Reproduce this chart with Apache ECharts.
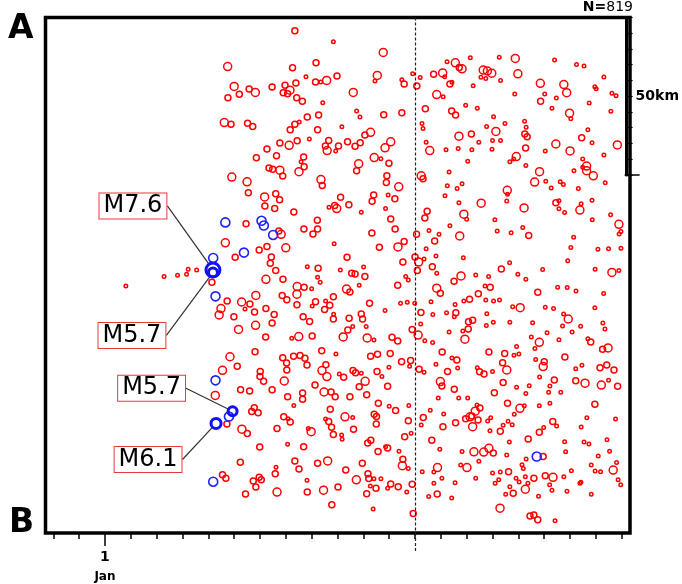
<!DOCTYPE html>
<html>
<head>
<meta charset="utf-8">
<script src="https://cdn.jsdelivr.net/npm/echarts@6/dist/echarts.min.js"></script>
<style>
html,body{margin:0;padding:0;background:#fff;}
#main{width:682px;height:584px;}
</style>
</head>
<body>
<div id="main"></div>
<script>
// time axis in days after 1 Jan, distance along A-B in km
var dayTicks = [-2,-1,0,1,2,3,4,5,6,7,8,9,10,11,12,13,14,15,16,17,18,19,20];
var labelDays = [0];
var dashDay = 12;
var scaleKmTicks = [0,5,10,15,20,25,30,35,40,45,50];
var scaleLength = 50;

// [day, km, magnitude]
var redEvents = [
[7.35,4.2,3.0],[8.84,7.7,2.5],[4.75,15.6,3.5],[7.26,16.0,3.0],[8.17,14.4,3.0],[7.78,18.8,2.5],[8.15,20.5,3.0],[8.35,20.5,2.5],[8.58,20.0,3.5],[8.98,18.6,3.0],
[5.00,21.9,3.5],[5.58,22.7,3.0],[5.82,23.8,3.5],[5.20,24.4,3.0],[4.76,25.5,3.0],[6.47,22.1,3.0],[6.97,21.5,3.0],[7.39,20.8,3.0],[6.90,23.9,3.0],[7.07,24.2,3.0],
[7.16,23.1,3.5],[7.42,25.5,3.0],[7.64,26.6,3.0],[8.43,27.1,2.5],[4.62,33.4,3.5],[4.88,33.9,3.0],[5.52,33.6,3.0],[5.72,34.6,3.0],[7.83,31.6,3.0],[8.27,31.0,3.0],
[7.35,33.9,3.0],[7.52,33.2,2.5],[7.17,35.7,3.0],[8.23,35.7,3.0],[9.17,34.7,2.5],[7.91,38.6,2.5],[6.77,39.9,3.0],[7.13,40.6,3.5],[7.44,39.2,3.0],[8.66,39.1,3.0],
[8.53,40.8,3.0],[8.60,42.3,3.5],[8.93,42.4,2.5],[9.04,40.8,3.0],[6.27,41.8,3.0],[6.64,43.9,3.0],[5.86,44.6,3.0],[7.69,44.3,3.0],[7.59,45.8,2.5],[7.71,47.4,3.0],
[6.35,47.8,3.0],[6.49,48.2,3.0],[6.77,48.5,3.5],[6.88,50.4,3.0],[7.51,49.0,3.5],[4.91,50.7,3.5],[5.50,52.2,3.5],[8.36,51.5,3.5],[8.41,53.4,3.0],[5.55,55.7,3.0],
[6.18,57.0,3.5],[6.61,56.0,3.0],[6.76,57.9,3.0],[9.12,57.1,3.0],[6.57,60.7,3.0],[7.31,61.8,3.0],[8.67,60.3,2.5],[8.89,59.7,3.0],[8.97,60.7,3.5],[8.22,64.4,3.0],
[8.23,67.2,3.0],[7.70,67.2,3.0],[8.05,68.8,3.0],[5.46,65.5,3.0],[4.66,71.6,3.5],[5.04,76.2,3.0],[5.97,73.9,3.0],[6.27,72.8,3.0],[6.44,76.1,3.0],[6.40,78.1,3.0],
[6.61,80.4,3.0],[7.00,73.2,3.5],[6.82,68.9,3.5],[6.73,67.8,3.0],[8.87,71.9,2.5],[7.83,79.2,2.5],[8.25,79.7,3.0],[9.11,80.2,2.5],[6.19,59.9,3.0],
[0.81,85.3,2.5],[2.29,82.3,2.5],[2.81,81.9,2.5],[3.16,81.6,2.5],[3.22,80.0,2.5],[3.55,80.2,2.5],[4.14,84.1,3.0],
[4.73,90.1,3.0],[4.49,92.5,3.5],[4.42,94.5,3.5],[4.99,95.1,3.0],[5.29,90.4,3.5],[5.42,92.6,2.5],[5.61,91.0,3.0],[5.84,88.3,3.5],[5.79,93.6,3.0],[5.17,99.1,3.5],
[5.83,97.8,3.5],[6.23,92.5,3.0],[6.55,94.4,3.0],[6.47,97.1,3.0],[6.23,83.2,3.5],[6.89,83.2,3.0],[6.86,88.3,3.0],[7.04,89.7,3.0],[7.44,85.5,3.5],[7.71,85.7,3.0],
[7.43,87.9,3.5],[7.43,91.3,3.0],[7.67,95.1,3.0],[7.92,96.6,3.0],[8.00,86.2,2.5],[8.23,82.5,2.5],[8.33,84.1,2.5],[8.15,90.3,3.0],[8.54,90.1,2.5],[8.70,91.4,3.0],
[8.84,88.7,3.0],[8.50,92.8,3.0],[8.85,94.3,2.5],[8.84,95.8,3.0],[8.02,91.7,2.5],[9.35,86.3,3.5],[9.48,87.2,3.0],[9.84,85.1,2.5],[9.55,81.3,3.0],[9.68,81.5,3.0],
[10.06,82.3,3.0],[10.24,90.8,3.0],[9.92,94.2,3.0],[9.97,95.8,3.0],[9.45,95.6,3.0],[9.40,99.3,3.0],[9.59,98.2,2.5],[10.11,98.2,2.5],[10.84,93.1,2.5],[11.33,85.1,3.0],
[11.64,82.3,2.5],[11.74,83.4,2.5],[11.70,90.5,2.5],[11.44,90.8,2.5],[11.99,90.8,2.5],[11.89,99.1,3.0],[6.22,101.5,3.0],[7.23,101.9,2.5],[7.50,101.4,3.5],[8.02,101.2,3.0],
[9.22,101.5,3.5],[10.15,101.8,3.5],[10.41,102.5,2.5],[11.11,101.6,3.0],[11.33,102.8,3.0],[5.81,106.2,3.0],[4.84,107.8,3.5],[5.12,110.8,3.0],[4.55,112.1,3.5],[6.88,108.1,3.0],
[7.03,109.8,3.0],[7.04,112.0,3.0],[7.30,107.6,3.0],[7.55,107.4,3.0],[7.74,108.3,3.0],[7.82,110.4,3.0],[8.39,105.9,3.0],[8.55,110.3,3.0],[8.40,112.2,3.5],[8.59,114.1,3.5],
[8.94,106.9,2.5],[9.07,113.3,2.5],[9.24,114.3,3.0],[9.60,112.2,3.0],[9.70,112.9,3.0],[9.92,113.0,2.5],[10.07,115.6,3.5],[9.84,117.3,3.0],[10.28,107.6,3.0],[10.55,107.0,3.0],
[11.04,106.8,3.0],[10.53,112.5,3.0],[10.72,114.1,2.5],[10.99,111.1,2.5],[11.48,109.4,3.0],[11.83,109.0,3.0],[11.79,110.8,2.5],[10.94,117.2,3.0],[6.01,112.5,3.0],[6.00,114.1,3.0],
[6.14,115.6,3.0],[6.94,115.5,3.5],[6.47,118.3,3.0],[5.60,118.7,3.0],[5.25,118.3,3.0],[4.27,120.1,3.5],[4.72,129.2,3.0],[5.30,130.8,3.5],[5.51,132.2,3.0],[5.78,124.0,3.0],
[5.68,125.2,3.0],[5.93,125.6,3.0],[6.66,130.6,3.0],[6.92,126.9,3.0],[7.17,128.5,3.0],[7.09,127.5,2.5],[7.31,123.3,2.5],[7.07,120.5,3.0],[7.65,119.3,3.0],[7.65,121.3,3.0],
[8.13,116.8,3.0],[8.48,119.0,3.5],[8.75,119.0,3.0],[8.91,120.5,3.0],[8.72,124.5,3.0],[8.54,127.6,2.5],[8.66,128.4,3.0],[8.77,130.2,3.0],[8.84,132.5,3.0],[9.16,132.7,2.5],
[9.18,134.0,2.5],[9.29,126.9,3.5],[9.59,127.1,2.5],[9.48,120.5,3.0],[10.13,119.9,3.0],[10.58,122.6,3.0],[10.42,126.1,3.0],[10.51,126.8,3.0],[10.50,129.2,3.0],[10.17,135.2,3.0],
[10.29,134.3,3.0],[9.62,130.8,3.0],[7.98,131.6,3.5],[7.87,130.6,2.5],[7.07,135.6,2.5],[7.69,136.4,3.0],[5.99,136.5,3.0],[11.00,123.5,2.5],[11.25,124.9,3.0],[11.76,123.3,2.5],
[11.74,128.1,3.0],[11.60,133.2,3.0],[11.85,132.1,2.5],[10.86,136.4,2.5],[10.94,136.8,3.0],[10.57,137.9,3.0],[11.38,137.8,2.5],[11.53,140.4,3.0],[11.51,142.4,3.5],[11.74,143.3,2.5],
[9.96,141.6,3.0],[9.32,143.8,3.0],[8.62,140.9,3.5],[8.23,141.6,3.0],[7.35,140.9,3.0],[7.51,143.5,3.0],[5.24,141.3,3.0],[4.55,145.3,3.0],[4.68,146.4,3.0],[5.74,147.3,3.0],
[5.97,146.1,3.0],[6.05,146.9,3.0],[5.84,149.2,3.0],[5.44,151.4,3.0],[6.59,145.0,3.0],[6.62,142.9,2.5],[6.66,150.8,3.5],[7.82,147.0,2.5],[7.83,150.8,3.0],[8.46,150.2,3.5],
[9.02,149.2,3.0],[9.73,146.9,3.5],[10.18,145.0,3.0],[10.21,146.5,3.0],[10.41,146.6,2.5],[10.68,146.6,2.5],[10.49,149.6,3.0],[10.27,148.9,2.5],[10.13,151.3,3.0],[10.94,149.6,2.5],
[11.06,148.2,3.0],[11.35,149.1,3.0],[11.68,150.8,2.5],[11.89,148.3,3.0],[8.78,154.8,3.0],[10.38,156.2,2.5],[11.93,157.6,3.0],
[10.77,11.1,3.5],[10.54,18.4,3.5],[10.45,20.2,2.5],[11.49,19.8,2.5],[11.58,21.1,3.0],[11.91,17.9,2.5],[12.07,21.8,3.0],[12.20,19.1,2.5],[12.72,18.0,3.0],[13.07,17.6,3.5],
[13.15,18.8,2.5],[13.35,21.1,3.0],[13.43,20.6,2.5],[13.24,14.1,2.5],[13.56,14.4,3.5],[13.71,15.9,3.0],[13.82,16.3,3.5],[14.14,12.8,2.5],[14.64,16.7,3.5],[14.80,17.0,3.5],
[14.55,19.0,2.5],[14.74,19.4,2.5],[14.25,21.7,2.5],[9.61,23.8,3.5],[9.74,29.7,2.5],[9.87,31.6,2.5],[10.79,30.9,3.0],[11.49,30.3,3.0],[12.84,24.5,3.5],[13.09,25.2,2.5],
[12.40,29.0,3.0],[13.42,29.7,3.0],[13.57,31.0,3.0],[13.96,27.9,2.5],[14.41,28.8,2.5],[14.77,34.6,2.5],[12.27,33.7,2.5],[12.31,35.3,2.5],[9.39,39.5,3.0],[9.68,40.9,3.0],
[9.88,39.8,3.0],[10.06,37.3,3.0],[10.28,36.5,3.5],[11.06,39.5,3.5],[10.84,41.4,3.5],[12.43,39.6,2.5],[12.57,42.3,3.5],[13.20,42.0,2.5],[13.70,37.7,3.5],[14.18,37.0,3.0],
[13.67,41.6,2.5],[14.20,42.0,2.5],[14.47,39.6,2.5],[10.42,44.5,3.5],[10.68,44.9,2.5],[9.82,46.5,3.5],[9.74,48.7,3.0],[10.99,46.3,3.0],[14.04,45.7,2.5],[12.24,50.3,3.5],
[12.31,51.2,3.0],[13.32,49.1,2.5],[10.91,50.3,3.0],[10.89,52.4,3.0],[11.37,53.8,3.5],[10.40,56.4,3.0],[10.34,58.4,3.0],[11.22,57.6,3.0],[10.96,56.4,2.5],[10.86,60.7,2.5],
[9.44,59.5,3.0],[9.92,61.9,2.5],[11.06,64.0,3.0],[11.23,67.2,3.0],[10.33,68.5,3.0],[13.25,53.5,2.5],[13.82,52.8,2.5],[13.63,54.3,2.5],[13.16,56.6,2.5],[13.70,58.9,2.5],
[14.56,59.0,3.5],[13.89,62.5,3.5],[14.00,64.1,2.5],[13.35,66.2,2.5],[12.47,61.6,3.0],[12.38,63.7,3.0],[12.54,67.7,2.5],[12.93,68.9,2.5],[12.76,71.0,3.0],[13.73,69.4,3.5],
[12.06,68.9,3.0],[11.34,72.9,3.5],[11.58,71.2,3.0],[10.62,73.0,3.0],[9.37,76.2,3.0],[12.00,76.1,3.0],[12.14,77.7,3.5],[12.35,76.7,2.5],[12.43,73.5,2.5],[12.81,75.8,2.5],
[12.67,79.2,3.0],[13.87,76.3,2.5],[11.53,77.7,3.0],[10.01,79.3,2.5],[12.09,80.4,3.0],
[15.26,12.6,2.5],[15.88,13.0,3.5],[17.40,13.5,2.5],[18.25,14.9,2.5],[18.54,15.4,2.5],[14.97,17.7,3.5],[15.31,20.0,2.5],[15.98,17.9,3.5],[16.85,20.9,3.5],[17.76,21.3,3.5],
[17.87,23.9,3.5],[17.02,24.3,2.5],[15.86,24.3,2.5],[17.47,25.6,2.5],[16.86,26.6,3.0],[17.30,28.8,2.5],[18.96,22.0,2.5],[19.01,22.6,2.5],[19.31,18.9,2.5],[19.62,24.1,2.5],
[19.78,24.9,2.5],[18.74,27.2,2.5],[19.58,29.8,2.5],[17.98,30.4,3.5],[18.03,32.2,2.5],[15.04,31.5,2.5],[15.48,33.7,2.5],[15.13,36.2,3.5],[15.00,39.1,2.5],[15.31,39.1,2.5],
[14.98,41.9,2.5],[16.24,33.0,2.5],[16.30,34.9,2.5],[16.25,37.0,3.0],[16.34,37.9,3.0],[16.28,41.5,3.0],[15.92,44.2,3.5],[15.82,45.0,2.5],[15.67,45.8,2.5],[16.29,47.0,2.5],
[17.04,42.4,2.5],[17.45,40.2,3.5],[18.00,42.4,3.5],[18.45,38.2,3.0],[18.69,35.7,2.5],[18.85,39.8,2.5],[19.83,40.5,3.5],[19.31,43.7,2.5],[18.49,45.0,2.5],[18.64,47.2,3.5],
[18.64,48.7,3.5],[18.49,47.6,2.5],[18.90,50.3,3.5],[18.15,48.7,2.5],[19.36,52.5,2.5],[16.82,49.0,3.5],[16.63,52.3,3.5],[17.06,52.0,2.5],[17.62,52.2,2.5],[17.74,53.1,2.5],
[17.27,54.2,2.5],[18.32,54.3,2.5],[15.57,54.9,3.5],[15.58,56.2,2.5],[15.55,58.3,2.5],[16.22,60.5,3.5],[17.45,58.9,3.0],[17.57,58.2,2.5],[17.57,60.8,2.5],[17.79,62.0,2.5],
[18.38,61.2,3.5],[18.43,59.2,2.5],[18.85,58.1,2.5],[18.86,64.3,2.5],[19.57,62.7,2.5],[19.89,65.7,3.5],[19.97,68.0,2.5],[19.90,68.8,2.5],[15.09,64.3,2.5],[15.18,67.8,2.5],
[15.72,68.4,2.5],[16.17,66.7,2.5],[16.40,69.3,3.0],[18.14,69.8,2.5],[18.03,73.1,2.5],[19.08,73.6,2.5],[19.49,73.5,2.5],[19.97,73.3,2.5],[17.91,77.3,2.5],[15.66,77.9,2.5],
[15.34,79.9,3.0],[16.94,80.1,2.5],[18.97,80.0,2.5],[19.62,81.0,3.5],[19.89,80.4,2.5],
[12.84,81.3,2.5],[13.78,82.1,3.5],[14.35,81.8,2.5],[14.85,82.3,2.5],[15.98,81.6,2.5],[16.29,83.2,2.5],[13.51,83.8,3.0],[12.84,86.0,3.5],[12.98,87.6,3.0],[12.62,90.3,2.5],
[14.45,87.8,3.0],[14.71,85.3,2.5],[14.91,85.7,3.0],[14.11,89.5,3.0],[13.89,90.1,2.5],[14.74,89.8,2.5],[15.04,90.1,2.5],[15.27,89.8,2.5],[13.55,91.2,2.5],[13.22,93.8,2.5],
[13.58,93.8,3.0],[13.52,95.1,2.5],[12.23,93.7,3.0],[12.69,94.4,2.5],[12.12,100.9,3.5],[12.22,97.4,2.5],[12.38,102.7,2.5],[12.68,103.3,2.5],[13.32,99.9,2.5],[14.07,96.7,3.0],
[14.23,96.2,3.0],[14.06,99.0,3.0],[13.85,99.6,2.5],[13.93,102.2,3.5],[14.78,94.1,2.5],[14.76,97.9,2.5],[15.03,96.8,2.5],[15.67,96.8,2.5],[16.07,92.2,3.5],[15.78,91.9,2.5],
[16.55,97.0,2.5],[17.04,92.1,2.5],[17.36,92.5,2.5],[16.75,87.3,3.0],[17.52,85.7,2.5],[17.89,85.8,2.5],[18.23,86.9,2.5],[18.96,92.2,2.5],[19.30,87.7,2.5],[17.75,94.2,2.5],
[17.93,95.8,3.5],[17.71,98.0,2.5],[18.08,99.9,2.5],[18.41,98.1,2.5],[19.27,97.1,2.5],[19.35,99.0,2.5],[16.50,101.5,2.5],[16.81,103.2,3.5],[17.11,100.2,2.5],[17.57,102.4,2.5],
[18.69,102.1,2.5],[18.80,103.1,3.0],[19.26,105.4,3.0],[19.47,105.0,3.5],[16.64,105.2,2.5],[15.93,104.5,2.5],[13.05,106.3,3.0],[12.81,110.2,2.5],[13.43,108.2,2.5],[13.62,108.8,3.0],
[13.65,111.4,2.5],[13.26,112.5,3.0],[12.16,111.8,3.0],[12.35,112.7,2.5],[14.86,106.3,3.0],[15.47,106.8,3.0],[15.83,107.3,2.5],[16.02,106.9,2.5],[16.67,108.7,2.5],[17.00,109.4,3.0],
[16.96,110.9,3.5],[15.39,109.7,3.0],[15.55,112.0,3.5],[17.80,107.9,3.0],[18.22,111.6,2.5],[18.46,110.5,2.5],[19.16,111.3,3.0],[19.42,110.4,3.0],[19.70,112.0,3.0],[14.41,111.3,2.5],
[14.50,112.6,3.0],[14.67,113.3,3.0],[15.00,112.5,2.5],[16.82,114.2,2.5],[17.39,115.2,3.0],[18.22,115.4,3.0],[18.58,116.2,3.5],[19.21,116.8,3.5],[19.84,117.2,3.0],[19.49,115.3,2.5],
[12.98,115.7,3.5],[13.04,117.1,3.0],[13.52,118.1,3.0],[15.07,119.2,3.0],[15.41,116.0,3.0],[15.93,117.5,2.5],[16.42,117.0,2.5],[17.22,117.1,2.5],[17.17,119.1,2.5],[17.64,119.1,2.5],
[16.29,119.5,2.5],[12.90,120.9,2.5],[13.69,120.9,2.5],[14.04,120.9,2.5],[14.40,123.1,2.5],[14.51,124.1,3.0],[14.33,125.1,3.5],[14.20,126.6,3.0],[13.96,127.5,3.0],[14.13,126.9,3.5],
[14.44,127.9,3.0],[14.93,127.2,2.5],[14.81,128.2,2.5],[13.11,126.0,2.5],[12.59,124.8,2.5],[12.32,127.1,3.0],[12.24,129.5,2.5],[13.08,130.0,3.0],[13.57,128.8,3.0],[14.23,130.0,3.5],
[15.58,122.6,3.0],[16.06,124.2,3.5],[16.23,123.4,2.5],[15.84,126.1,2.5],[15.60,128.3,2.5],[15.41,129.6,2.5],[15.76,129.4,2.5],[16.81,123.4,2.5],[17.22,122.6,2.5],[17.33,128.4,3.0],
[17.48,129.8,2.5],[16.81,131.8,3.0],[16.98,130.3,2.5],[18.43,130.1,2.5],[18.65,127.2,2.5],[18.96,122.9,3.0],[19.76,127.6,2.5],[14.90,131.3,2.5],[15.30,131.5,3.0],[12.65,134.3,3.0],
[12.96,137.2,2.5],[13.82,137.9,2.5],[14.28,138.0,3.5],[14.66,138.1,3.5],[14.86,136.9,3.5],[15.03,138.4,3.0],[14.47,141.0,2.5],[15.55,139.0,2.5],[16.38,133.9,3.0],[15.65,134.9,2.5],
[16.96,139.5,3.0],[16.30,140.3,2.5],[17.83,138.0,2.5],[17.79,134.8,2.5],[18.54,134.9,2.5],[18.73,135.5,2.5],[19.43,134.2,2.5],[19.53,137.8,2.5],[19.09,139.3,2.5],[19.80,141.4,2.5],
[19.67,143.8,3.5],[18.82,142.2,2.5],[18.97,144.1,2.5],[19.18,144.3,2.5],[18.05,144.0,2.5],[17.76,145.9,2.5],[18.42,147.7,2.5],[19.86,146.9,2.5],[19.96,148.5,2.5],[18.82,151.5,2.5],
[17.88,150.5,2.5],[17.34,146.1,3.5],[17.04,145.6,3.0],[17.21,148.5,2.5],[17.30,150.2,2.5],[16.78,152.1,2.5],[16.27,149.9,3.5],[16.60,146.4,3.0],[16.37,148.0,2.5],[16.27,145.9,2.5],
[16.19,143.3,2.5],[15.91,146.4,2.5],[15.62,144.3,3.0],[15.30,144.4,2.5],[15.00,144.7,2.5],[15.24,146.9,2.5],[15.10,148.0,2.5],[15.67,149.1,2.5],[15.80,151.2,3.0],[15.51,151.5,2.5],
[16.03,147.6,2.5],[16.14,142.1,2.5],[14.01,143.0,3.5],[13.77,142.2,2.5],[13.55,147.8,2.5],[13.04,146.4,2.5],[12.87,143.0,3.5],[12.73,144.4,2.5],[12.73,148.0,2.5],[12.28,144.3,2.5],
[12.86,151.4,3.0],[13.42,152.7,2.5],[12.53,152.2,2.5],[14.35,146.4,2.5],[15.29,155.9,3.5],[16.45,158.4,3.0],[16.60,158.1,3.0],[16.75,159.6,3.0],[17.42,159.9,2.5],[18.38,148.0,2.5]
];

// larger events (blue)
var blueEvents = [
[4.19,76.4,4.8],[4.28,88.6,4.8],[4.66,65.1,4.8],[6.06,64.6,4.8],[6.15,66.1,4.8],[6.51,69.1,4.9],
[5.38,74.7,4.9],[4.28,115.3,4.8],[4.80,126.8,4.7],[4.19,147.5,4.8],[16.71,139.5,4.9]
];

// labelled main shocks
var mainNames = ['M7.6','M5.7','M5.7','M6.1'];
var mainDays = [4.18,4.18,4.94,4.30];
var mainKm = [80.2,81.0,125.1,129.0];
var mainMags = [7.6,5.7,5.7,6.1];

var xMin = -2.3, xMax = 20.32, yMax = 163.8;

var mainData = mainNames.map(function(n, i){
  return {name: n, value: [mainDays[i], mainKm[i], mainMags[i]]};
});

// where each label box sits relative to its event
var labelShift = {
  0: [-80, -64],
  1: [-81, 63],
  2: [-81, -23],
  3: [-68, 36]
};

var myChart = echarts.init(document.getElementById('main'));
var option = {
  animation: false,
  textStyle: {fontFamily: 'DejaVu Sans'},
  grid: [
    {left: 45.5, right: 52, top: 17.5, bottom: 51, show: true, borderColor: '#000', borderWidth: 3.5, backgroundColor: 'rgba(0,0,0,0)'},
    {left: 45.5, right: 52, top: 17.5, height: 157.4, show: false}
  ],
  xAxis: [
    {
      gridIndex: 0, type: 'value', min: xMin, max: xMax, position: 'bottom',
      axisLine: {show: false, onZero: false}, splitLine: {show: false}, axisLabel: {show: false},
      axisTick: {show: true, customValues: dayTicks, length: 6, lineStyle: {color: '#000', width: 1.5}}
    },
    {
      gridIndex: 0, type: 'value', min: xMin, max: xMax, position: 'bottom',
      axisLine: {show: false, onZero: false}, splitLine: {show: false},
      axisTick: {show: true, customValues: labelDays, length: 13, lineStyle: {color: '#000', width: 1.5}},
      axisLabel: {
        show: true, customValues: labelDays, margin: 15,
        formatter: function(v){ return '{d|' + (v + 1) + '}\n{m|Jan}'; },
        rich: {
          d: {fontSize: 14, fontWeight: 'bold', lineHeight: 18, color: '#000', fontFamily: 'DejaVu Sans'},
          m: {fontSize: 12, fontWeight: 'bold', lineHeight: 22, color: '#000', fontFamily: 'DejaVu Sans'}
        }
      }
    },
    {
      gridIndex: 0, type: 'value', min: xMin, max: xMax, position: 'bottom',
      axisLine: {show: false, onZero: false}, splitLine: {show: false}, axisLabel: {show: false},
      axisTick: {show: true, customValues: [dashDay], length: 19, lineStyle: {color: '#222', width: 1.2, type: [3, 2]}}
    },
    {gridIndex: 1, type: 'value', min: xMin, max: xMax, show: false}
  ],
  yAxis: [
    {gridIndex: 0, type: 'value', min: 0, max: yMax, inverse: true, show: false},
    {
      gridIndex: 1, type: 'value', min: 0, max: scaleLength, interval: 5, inverse: true,
      position: 'right', offset: 2,
      axisLine: {show: true, onZero: false, lineStyle: {color: '#000', width: 3}},
      axisTick: {show: true, customValues: scaleKmTicks, length: 6, lineStyle: {color: '#000', width: 1.2}},
      axisLabel: {show: true, customValues: [scaleLength / 2], formatter: scaleLength + 'km', margin: 9,
        color: '#000', fontWeight: 'bold', fontSize: 14, fontFamily: 'DejaVu Sans'},
      splitLine: {show: false}
    },
    {
      gridIndex: 1, type: 'value', min: 0, max: scaleLength, inverse: true, position: 'right',
      axisLine: {show: false, onZero: false}, axisLabel: {show: false}, splitLine: {show: false},
      axisTick: {show: true, customValues: [scaleLength], length: 15, lineStyle: {color: '#000', width: 1.5}}
    }
  ],
  graphic: [
    {type: 'text', left: 8, top: 13, style: {text: 'A', font: 'bold 33px "DejaVu Sans"', fill: '#000'}},
    {type: 'text', left: 9, top: 507, style: {text: 'B', font: 'bold 33px "DejaVu Sans"', fill: '#000'}},
    {type: 'text', right: 49, top: 0, style: {
      text: '{b|N=}{n|819}', fill: '#000',
      rich: {b: {fontSize: 14, fontWeight: 'bold', fontFamily: 'DejaVu Sans'}, n: {fontSize: 14, fontFamily: 'DejaVu Sans'}}
    }}
  ],
  series: [
    {
      name: 'events', type: 'scatter', xAxisIndex: 0, yAxisIndex: 0,
      data: redEvents, silent: true,
      symbol: 'circle',
      symbolSize: function(v){ return v[2] >= 3.5 ? 8 : (v[2] >= 3 ? 6 : 3.5); },
      itemStyle: {color: 'rgba(255,0,0,0)', borderColor: '#ff0000', borderWidth: 1.5, opacity: 1},
      markLine: {
        silent: true, symbol: 'none', label: {show: false},
        lineStyle: {color: '#222', type: [3, 2], width: 1.2},
        data: [{xAxis: dashDay}]
      }
    },
    {
      name: 'large', type: 'scatter', xAxisIndex: 0, yAxisIndex: 0,
      data: blueEvents, silent: true, symbol: 'circle', symbolSize: 9,
      itemStyle: {color: 'rgba(0,0,255,0)', borderColor: '#2020ff', borderWidth: 1.6, opacity: 1}
    },
    {
      name: 'main', type: 'scatter', xAxisIndex: 0, yAxisIndex: 0,
      data: mainData, silent: true, symbol: 'circle',
      symbolSize: function(v){ return 9 + (v[2] - 5.7) * 2.6; },
      itemStyle: {color: 'rgba(0,0,255,0)', borderColor: '#1010ff', borderWidth: 3, opacity: 1},
      label: {
        show: true, position: 'inside', formatter: '{b}',
        fontSize: 24, fontFamily: 'DejaVu Sans', color: '#000',
        backgroundColor: '#fff', borderColor: '#e83a3a', borderWidth: 1,
        padding: [1, 4, 0, 4], lineHeight: 24
      },
      labelLine: {show: true, lineStyle: {color: '#333', width: 1.2}},
      labelLayout: function(p){
        var s = labelShift[p.dataIndex];
        return {dx: s[0], dy: s[1]};
      }
    },
    {type: 'scatter', xAxisIndex: 3, yAxisIndex: 1, data: [], silent: true}
  ]
};
option && myChart.setOption(option);
</script>
</body>
</html>
